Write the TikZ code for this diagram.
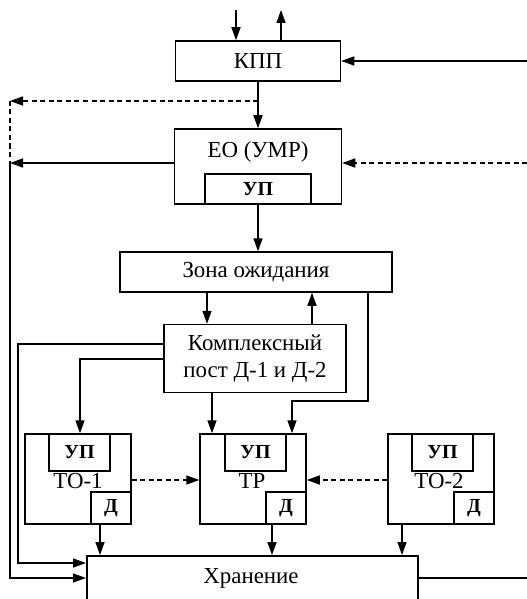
\documentclass[tikz,border=0pt]{standalone}
\usepackage{fontspec}
\setmainfont{Liberation Serif}
\usetikzlibrary{arrows.meta,positioning}

\tikzset{
  box/.style={draw, line width=1.5bp, inner sep=0pt, font=\fontsize{23}{27}\selectfont},
  upbox/.style={box, font=\bfseries\fontsize{20}{22}\selectfont},
  txt/.style={inner sep=0pt, font=\fontsize{23}{27}\selectfont},
  arr/.style={line width=1.5bp, -{Triangle[length=13bp,width=9bp]}},
  ln/.style={line width=1.5bp},
  dsh/.style={dash pattern=on 5bp off 3.5bp},
}

\begin{document}
\begin{tikzpicture}[x=1bp, y=-1bp]
    \useasboundingbox (0,0) rectangle (527,599);
    \clip (0,0) rectangle (527,599);

    % boxes
    \node (kpp) [box, minimum width=165bp, minimum height=40bp] at (258,61) {КПП};
    \node (eo) [box, minimum width=167bp, minimum height=75bp] at (258,166.5) {};
    \node (eot) [txt] at (258,152) {ЕО (УМР)};
    \node (eoup) [upbox, minimum width=106bp, minimum height=30bp, anchor=south] at (eo.south) {УП};
    \node (zona) [box, minimum width=272bp, minimum height=40bp] at (256,272) {Зона ожидания};
    \node (post) [box, minimum width=182bp, minimum height=68bp, align=center] at (255,358.5) {Комплексный\\пост Д-1 и Д-2};

    \node (to1) [box, minimum width=106bp, minimum height=90bp] at (78,479) {};
    \node (to1up) [upbox, minimum width=61bp, minimum height=37bp] at (79.5,452.5) {УП};
    \node (to1d) [upbox, minimum width=40bp, minimum height=32bp, anchor=south east] at (to1.south east) {Д};
    \node (to1t) [txt] at (78,481) {ТО-1};

    \node (tr) [box, minimum width=106bp, minimum height=90bp] at (253,479) {};
    \node (trup) [upbox, minimum width=61bp, minimum height=37bp] at (255.5,452.5) {УП};
    \node (trd) [upbox, minimum width=40bp, minimum height=32bp, anchor=south east] at (tr.south east) {Д};
    \node (trt) [txt] at (252,481) {ТР};

    \node (to2) [box, minimum width=106bp, minimum height=90bp] at (441,479) {};
    \node (to2up) [upbox, minimum width=61bp, minimum height=37bp] at (442.5,452.5) {УП};
    \node (to2d) [upbox, minimum width=40bp, minimum height=32bp, anchor=south east] at (to2.south east) {Д};
    \node (to2t) [txt] at (439,481) {ТО-2};

    \node (hr) [box, minimum width=331bp, minimum height=60bp, anchor=north west] at (86,555) {};
    \node (hrt) [txt] at (251,578) {Хранение};

    % free ends
    \coordinate (in) at (236,10);
    \coordinate (out) at (281,10);
    \coordinate (r1) at (527,61);
    \coordinate (r2) at (527,163);
    \coordinate (r3) at (527,578);
    \coordinate (d1) at (10,101);
    \coordinate (l1) at (10,163);
    \coordinate (l2) at (10,578);
    \coordinate (l3) at (18,344);
    \coordinate (l4) at (18,563);
    \coordinate (k1) at (80,359);
    \coordinate (z1) at (368,401);
    \coordinate (z2) at (292,401);

    % connectors
    \draw[arr] (in) -- (in |- kpp.north);
    \draw[arr] (out |- kpp.north) -- (out);
    \draw[arr] (r1) -- (kpp.east);
    \draw[arr] (kpp.south) -- (eo.north);
    \draw[arr, dsh] (kpp.south |- d1) -- (d1);
    \draw[ln, dsh] (d1) -- (l1);
    \draw[arr] (eo.west |- l1) -- (l1);
    \draw[arr] (l1) -- (l2) -- (l2 -| hr.west);
    \draw[arr, dsh] (r2) -- (eo.east |- r2);
    \draw[arr] (eo.south) -- (eo.south |- zona.north);

    \draw[arr] (zona.south -| 207,0) -- (post.north -| 207,0);
    \draw[arr] (post.north -| 312,0) -- (zona.south -| 312,0);
    \draw[arr] (zona.south -| z1) -- (z1) -- (z2) -- (z2 |- tr.north);

    \draw[arr] (post.west |- l3) -- (l3) -- (l4) -- (l4 -| hr.west);
    \draw[arr] (post.west |- k1) -- (k1) -- (k1 |- to1.north);
    \draw[arr] (post.south -| 212,0) -- (tr.north -| 212,0);

    \draw[arr, dsh] (to1.east |- 0,480) -- (tr.west |- 0,480);
    \draw[arr, dsh] (to2.west |- 0,480) -- (tr.east |- 0,480);

    \draw[arr] (to1.south -| 100,0) -- (hr.north -| 100,0);
    \draw[arr] (tr.south -| 272,0) -- (hr.north -| 272,0);
    \draw[arr] (to2.south -| 402,0) -- (hr.north -| 402,0);
    \draw[ln] (hr.east |- r3) -- (r3);
\end{tikzpicture}
\end{document}
